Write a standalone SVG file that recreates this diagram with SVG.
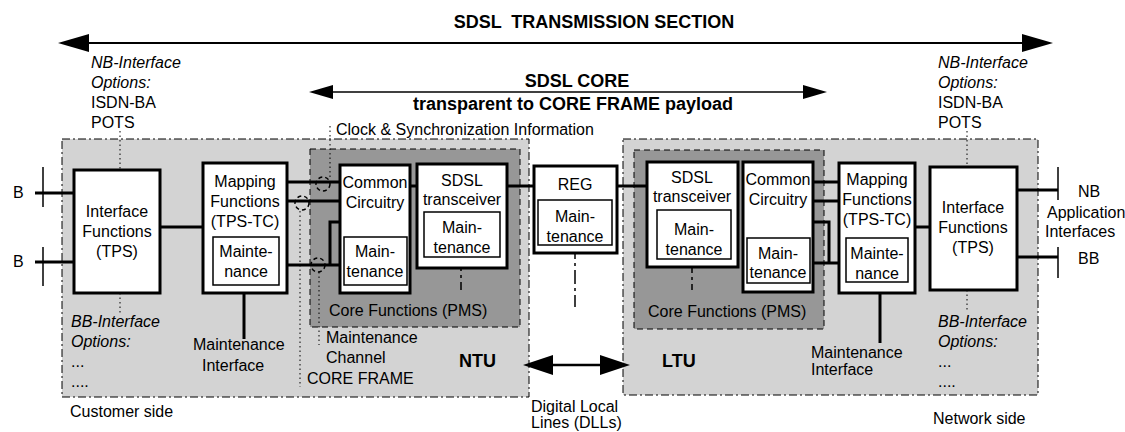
<svg xmlns="http://www.w3.org/2000/svg" width="1125" height="432" viewBox="0 0 1125 432">
<style>
text{font-family:"Liberation Sans",Arial,Helvetica,sans-serif;font-size:16px;fill:#000}
.b{font-weight:bold;font-size:18px}
.i{font-style:italic}
.m{text-anchor:middle}
.pre{white-space:pre}
.region{fill:#d3d3d3;stroke:#000;stroke-width:1;stroke-dasharray:8 3 2 3}
.core{fill:#979797;stroke:#000;stroke-width:1;stroke-dasharray:6 4}
.box{fill:#fff;stroke:#000;stroke-width:3}
.inner{fill:#fff;stroke:#000;stroke-width:1.5}
.link{fill:none;stroke:#000;stroke-width:3}
.dot{fill:none;stroke:#000;stroke-width:1;stroke-dasharray:1.5 3}
.dd{fill:none;stroke:#000;stroke-width:1.5;stroke-dasharray:14 4 3 4}
.circ{fill:none;stroke:#000;stroke-width:1.5;stroke-dasharray:4 3}
</style>

<!-- regions -->
<g id="customer-region">
<rect class="region" x="62" y="139" width="467" height="258"/>
</g>
<g id="network-region">
<rect class="region" x="623" y="139" width="415" height="256"/>
</g>
<g id="ntu-core">
<rect class="core" x="310" y="149" width="210" height="178"/>
<text x="329" y="316">Core Functions (PMS)</text>
</g>
<g id="ltu-core">
<rect class="core" x="634" y="150" width="190" height="179"/>
<text x="648" y="317">Core Functions (PMS)</text>
</g>

<!-- connectors -->
<g id="connectors">
<line x1="89" y1="43" x2="1022" y2="43" stroke="#000" stroke-width="2"/>
<polygon points="58,43 89,34 89,52"/>
<polygon points="1053,43 1022,34 1022,52"/>
<line x1="333" y1="92" x2="803" y2="92" stroke="#000" stroke-width="1.5"/>
<polygon points="309,92 333,85 333,99"/>
<polygon points="827,92 803,85 803,99"/>
<line x1="553" y1="365" x2="600" y2="365" stroke="#000" stroke-width="2.5"/>
<polygon points="523,365 553,355 553,375"/>
<polygon points="630,365 600,355 600,375"/>

<!-- B interfaces left -->
<line class="link" x1="35" y1="193" x2="74" y2="193"/>
<line x1="43" y1="167" x2="43" y2="207" stroke="#000" stroke-width="1.5"/>
<line class="link" x1="35" y1="262" x2="74" y2="262"/>
<line x1="43" y1="247" x2="43" y2="286" stroke="#000" stroke-width="1.5"/>
<!-- NB/BB interfaces right -->
<line class="link" x1="1017" y1="190" x2="1058" y2="190"/>
<line x1="1058" y1="167" x2="1058" y2="200" stroke="#000" stroke-width="1.5"/>
<line class="link" x1="1017" y1="257" x2="1058" y2="257"/>
<line x1="1058" y1="247" x2="1058" y2="278" stroke="#000" stroke-width="1.5"/>

<!-- left chain -->
<line class="link" x1="160" y1="227" x2="203" y2="227"/>
<line class="link" x1="287" y1="182" x2="340" y2="182"/>
<line class="link" x1="287" y1="201" x2="340" y2="201"/>
<line class="link" x1="287" y1="265" x2="340" y2="265"/>
<polyline class="link" points="340,222 330,222 330,265"/>
<line class="link" x1="410" y1="186" x2="417" y2="186"/>
<line class="link" x1="507" y1="186" x2="534" y2="186"/>
<line class="link" x1="617" y1="186" x2="647" y2="186"/>
<!-- right chain -->
<line class="link" x1="813" y1="182" x2="839" y2="182"/>
<line class="link" x1="813" y1="201" x2="839" y2="201"/>
<line class="link" x1="813" y1="263" x2="839" y2="263"/>
<polyline class="link" points="813,222 829,222 829,263"/>
<line class="link" x1="915" y1="227" x2="930" y2="227"/>

<!-- maintenance interfaces -->
<line class="link" x1="244" y1="285" x2="244" y2="339"/>
<line class="link" x1="880" y1="282" x2="880" y2="343"/>
<!-- maintenance dash-dot -->
<line class="dd" x1="461" y1="257" x2="461" y2="290"/>
<line class="dd" x1="575" y1="245" x2="575" y2="307"/>
<line class="dd" x1="692" y1="259" x2="692" y2="290"/>

<!-- dotted option lines -->
<line class="dot" x1="120" y1="131" x2="120" y2="170"/>
<line class="dot" x1="120" y1="293" x2="120" y2="313"/>
<line class="dot" x1="967" y1="131" x2="967" y2="167"/>
<line class="dot" x1="967" y1="290" x2="967" y2="310"/>
<!-- clock / core frame / maintenance channel -->
<line class="dot" x1="330" y1="126" x2="330" y2="177"/>
<line class="dot" x1="300" y1="211" x2="300" y2="387"/>
<line class="dot" x1="319" y1="272" x2="319" y2="345"/>
<circle class="circ" cx="323" cy="184" r="7"/>
<circle class="circ" cx="302" cy="203" r="7"/>
<circle class="circ" cx="318" cy="265" r="7"/>
</g>

<!-- nodes -->
<g id="if-left">
<rect class="box" x="74" y="170" width="86" height="123"/>
<text class="m" x="117" y="217">Interface</text>
<text class="m" x="117" y="237">Functions</text>
<text class="m" x="117" y="257">(TPS)</text>
</g>
<g id="map-left">
<rect class="box" x="203" y="163" width="84" height="130"/>
<text class="m" x="245" y="187">Mapping</text>
<text class="m" x="245" y="207">Functions</text>
<text class="m" x="245" y="227">(TPS-TC)</text>
<rect class="inner" x="213" y="237" width="66" height="48"/>
<text class="m" x="246" y="257">Mainte-</text>
<text class="m" x="246" y="277">nance</text>
</g>
<g id="cc-left">
<rect class="box" x="340" y="165" width="70" height="128"/>
<text class="m" x="375" y="188">Common</text>
<text class="m" x="375" y="208">Circuitry</text>
<rect class="inner" x="344" y="237" width="63" height="48"/>
<text class="m" x="375" y="257">Main-</text>
<text class="m" x="375" y="277">tenance</text>
</g>
<g id="tr-left">
<rect class="box" x="417" y="164" width="90" height="104"/>
<text class="m" x="462" y="186">SDSL</text>
<text class="m" x="462" y="205">transceiver</text>
<rect class="inner" x="424" y="212" width="76" height="45"/>
<text class="m" x="462" y="233">Main-</text>
<text class="m" x="462" y="253">tenance</text>
</g>
<g id="reg">
<rect class="box" x="534" y="166" width="83" height="87"/>
<text class="m" x="575" y="190">REG</text>
<rect class="inner" x="538" y="200" width="74" height="45"/>
<text class="m" x="575" y="222">Main-</text>
<text class="m" x="575" y="242">tenance</text>
</g>
<g id="tr-right">
<rect class="box" x="647" y="162" width="91" height="105"/>
<text class="m" x="692" y="183">SDSL</text>
<text class="m" x="692" y="202">transceiver</text>
<rect class="inner" x="657" y="210" width="74" height="49"/>
<text class="m" x="694" y="235">Main-</text>
<text class="m" x="694" y="255">tenance</text>
</g>
<g id="cc-right">
<rect class="box" x="743" y="162" width="70" height="130"/>
<text class="m" x="778" y="185">Common</text>
<text class="m" x="778" y="205">Circuitry</text>
<rect class="inner" x="747" y="238" width="63" height="45"/>
<text class="m" x="778" y="259">Main-</text>
<text class="m" x="778" y="278">tenance</text>
</g>
<g id="map-right">
<rect class="box" x="839" y="163" width="76" height="130"/>
<text class="m" x="877" y="185">Mapping</text>
<text class="m" x="877" y="205">Functions</text>
<text class="m" x="877" y="225">(TPS-TC)</text>
<rect class="inner" x="846" y="238" width="62" height="44"/>
<text class="m" x="877" y="259">Mainte-</text>
<text class="m" x="877" y="279">nance</text>
</g>
<g id="if-right">
<rect class="box" x="930" y="167" width="87" height="123"/>
<text class="m" x="973" y="213">Interface</text>
<text class="m" x="973" y="233">Functions</text>
<text class="m" x="973" y="253">(TPS)</text>
</g>

<!-- labels -->
<g id="labels">
<text class="b m pre" x="594" y="28">SDSL  TRANSMISSION SECTION</text>
<text class="b m" x="577" y="87">SDSL CORE</text>
<text class="b m" x="573" y="110">transparent to CORE FRAME payload</text>
<text class="i" x="91" y="68">NB-Interface</text>
<text class="i" x="91" y="88">Options:</text>
<text x="91" y="108">ISDN-BA</text>
<text x="91" y="128">POTS</text>
<text class="i" x="938" y="68">NB-Interface</text>
<text class="i" x="938" y="88">Options:</text>
<text x="938" y="108">ISDN-BA</text>
<text x="938" y="128">POTS</text>
<text x="13" y="198">B</text>
<text x="13" y="267">B</text>
<text x="1078" y="197">NB</text>
<text x="1047" y="218">Application</text>
<text x="1045" y="237">Interfaces</text>
<text x="1078" y="264">BB</text>
<text class="i" x="71" y="327">BB-Interface</text>
<text class="i" x="71" y="347">Options:</text>
<text x="71" y="367">...</text>
<text x="71" y="387">....</text>
<text class="i" x="938" y="327">BB-Interface</text>
<text class="i" x="938" y="347">Options:</text>
<text x="938" y="367">...</text>
<text x="938" y="387">....</text>
<text x="193" y="350">Maintenance</text>
<text x="202" y="371">Interface</text>
<text x="811" y="358">Maintenance</text>
<text x="811" y="375">Interface</text>
<text x="336" y="135">Clock &amp; Synchronization Information</text>
<text x="326" y="343">Maintenance</text>
<text x="326" y="363">Channel</text>
<text x="307" y="384">CORE FRAME</text>
<text class="b" x="459" y="367">NTU</text>
<text class="b" x="662" y="367">LTU</text>
<text x="531" y="412">Digital Local</text>
<text x="531" y="428">Lines (DLLs)</text>
<text x="70" y="417">Customer side</text>
<text x="933" y="424">Network side</text>
</g>
</svg>
